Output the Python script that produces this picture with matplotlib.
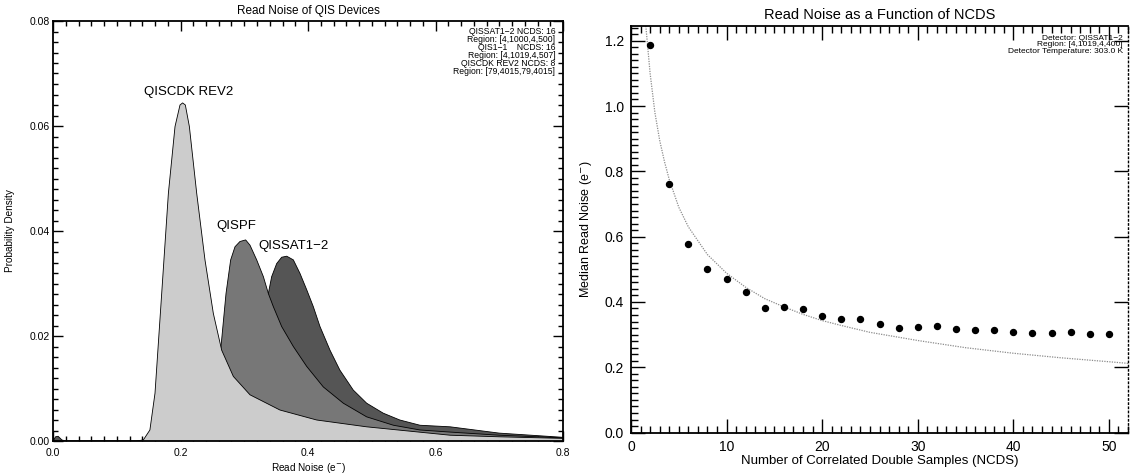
import matplotlib
matplotlib.use("Agg")
import matplotlib.pyplot as plt
from matplotlib.ticker import MultipleLocator, FormatStrFormatter

plt.rcParams["font.family"] = ["Liberation Sans", "DejaVu Sans"]

# ---- Left panel: read-noise probability densities ----
cdk_x = [0.0, 0.13, 0.1417, 0.152, 0.160, 0.1705, 0.181, 0.1914, 0.1992, 0.2033,
         0.2076, 0.2139, 0.2254, 0.2384, 0.2515, 0.2646, 0.2829, 0.309, 0.356,
         0.4136, 0.492, 0.623, 0.70, 0.80]
cdk_y = [0.0, 0.0, 0.0002, 0.0021, 0.0091, 0.0281, 0.0472, 0.0599, 0.0640, 0.0644,
         0.0640, 0.0599, 0.0472, 0.0345, 0.0243, 0.0173, 0.0123, 0.0088, 0.0059,
         0.0040, 0.0027, 0.0011, 0.0008, 0.0005]

pf_x = [0.20, 0.22, 0.23, 0.24, 0.25, 0.263, 0.2714, 0.2787, 0.2855, 0.2933, 0.3022,
        0.309, 0.3195, 0.330, 0.3378, 0.3456, 0.3587, 0.377, 0.398, 0.424, 0.4554,
        0.492, 0.534, 0.5757, 0.623, 0.70, 0.80]
pf_y = [0.0, 0.0, 0.001, 0.003, 0.008, 0.0173, 0.0281, 0.0345, 0.0370, 0.0380, 0.0383,
        0.0373, 0.0345, 0.0313, 0.0281, 0.0256, 0.0218, 0.0180, 0.0142, 0.0103, 0.0072,
        0.0046, 0.0030, 0.0021, 0.0017, 0.0011, 0.0006]

sat_x = [0.0, 0.004, 0.008, 0.014, 0.02, 0.25, 0.263, 0.28, 0.30, 0.32, 0.3378, 0.343,
         0.3509, 0.3587, 0.3666, 0.377, 0.3875, 0.398, 0.4083, 0.4188, 0.4345, 0.450,
         0.471, 0.492, 0.518, 0.544, 0.5757, 0.623, 0.70, 0.80]
sat_y = [0.0, 0.0008, 0.0009, 0.0002, 0.0, 0.0, 0.001, 0.005, 0.012, 0.021, 0.0281, 0.0313,
         0.0338, 0.0350, 0.0352, 0.0345, 0.0319, 0.0288, 0.0256, 0.0218, 0.0173, 0.0135,
         0.0097, 0.0072, 0.0053, 0.0040, 0.0030, 0.0027, 0.0015, 0.0007]

device_labels = ["QISCDK REV2", "QISPF", "QISSAT1\u22122"]
label_pos = [(0.212, 0.0665), (0.287, 0.0410), (0.378, 0.0371)]

left_info = ["QISSAT1\u22122 NCDS: 16", "Region: [4,1000,4,500]",
             "QIS1\u22121    NCDS: 16", "Region: [4,1019,4,507]",
             "QISCDK REV2 NCDS: 8", "Region: [79,4015,79,4015]"]

# ---- Right panel: median read noise vs NCDS ----
ncds = [2, 4, 6, 8, 10, 12, 14, 16, 18, 20, 22, 24, 26, 28, 30, 32, 34, 36, 38,
        40, 42, 44, 46, 48, 50]
median_noise = [1.187, 0.761, 0.578, 0.501, 0.470, 0.431, 0.381, 0.386, 0.377, 0.358,
                0.349, 0.347, 0.334, 0.321, 0.324, 0.325, 0.316, 0.313, 0.313, 0.308,
                0.304, 0.306, 0.307, 0.303, 0.302]

fit_ncds = [1.55, 2, 2.5, 3, 3.5, 4, 5, 6, 8, 10, 12, 14, 16, 18, 20, 22, 25, 30,
            35, 40, 45, 50, 52]
fit_noise = [1.245, 1.10, 0.98, 0.895, 0.83, 0.775, 0.69, 0.63, 0.545, 0.488, 0.445,
             0.41, 0.385, 0.362, 0.343, 0.328, 0.307, 0.282, 0.26, 0.243, 0.229,
             0.217, 0.212]

right_info = ["Detector: QISSAT1\u22122", "Region: [4,1019,4,400]",
              "Detector Temperature: 303.0 K"]

fig = plt.figure(figsize=(11.3, 4.74), dpi=100)

# Left axes
ax1 = fig.add_axes([53 / 1130, 1 - 441 / 474, 510 / 1130, 420 / 474])
series = [(sat_x, sat_y, "#555555", 1), (pf_x, pf_y, "#777777", 2),
          (cdk_x, cdk_y, "#cccccc", 3)]
for xs, ys, col, z in series:
    ax1.fill_between(xs, ys, 0, facecolor=col, edgecolor="none", zorder=z)
    ax1.plot(xs, ys, color="black", lw=0.6, zorder=z)

for txt, (lx, ly) in zip(device_labels, label_pos):
    ax1.text(lx, ly, txt, ha="center", va="center", fontsize=9.5, zorder=5)

for i, line in enumerate(left_info):
    ypix = 32 + i * 7.8
    ax1.text(0.985, 1 - (ypix - 21) / 420, line, transform=ax1.transAxes,
             ha="right", va="center", fontsize=6.2, zorder=5)

ax1.set_xlim(0, 0.8)
ax1.set_ylim(0, 0.08)
ax1.xaxis.set_major_locator(MultipleLocator(0.2))
ax1.xaxis.set_minor_locator(MultipleLocator(0.02))
ax1.yaxis.set_major_locator(MultipleLocator(0.02))
ax1.yaxis.set_minor_locator(MultipleLocator(0.002))
ax1.xaxis.set_major_formatter(FormatStrFormatter("%.1f"))
ax1.yaxis.set_major_formatter(FormatStrFormatter("%.2f"))
ax1.tick_params(which="both", direction="in", top=True, right=True,
                labelsize=7.5, width=1.0)
ax1.tick_params(which="major", length=7)
ax1.tick_params(which="minor", length=3.5)
ax1.tick_params(axis="x", pad=5)
ax1.tick_params(axis="y", pad=2)
for sp in ax1.spines.values():
    sp.set_linewidth(1.3)
    sp.set_zorder(6)
ax1.set_title("Read Noise of QIS Devices", fontsize=8.5, pad=5)
ax1.set_xlabel("Read Noise (e$^{-}$)", fontsize=7.2, labelpad=2)
ax1.set_ylabel("Probability Density", fontsize=7.2)
ax1.yaxis.set_label_coords(-0.075, 0.5)

# Right axes
ax2 = fig.add_axes([631 / 1130, 1 - 432.6 / 474, 497 / 1130, 406.6 / 474])
ax2.plot(fit_ncds, fit_noise, color="#8c8c8c", lw=0.9, linestyle=(0, (1, 1)))
ax2.plot(ncds, median_noise, "o", color="black", markersize=4.3)

for i, line in enumerate(right_info):
    ypix = 38.5 + i * 6.3
    ax2.text(0.99, 1 - (ypix - 26) / 406.6, line, transform=ax2.transAxes,
             ha="right", va="center", fontsize=6.0)

ax2.set_xlim(0, 52)
ax2.set_ylim(0, 1.245)
ax2.xaxis.set_major_locator(MultipleLocator(10))
ax2.xaxis.set_minor_locator(MultipleLocator(1))
ax2.yaxis.set_major_locator(MultipleLocator(0.2))
ax2.yaxis.set_minor_locator(MultipleLocator(0.02))
ax2.yaxis.set_major_formatter(FormatStrFormatter("%.1f"))
ax2.tick_params(which="both", direction="in", top=True, right=True,
                labelsize=10, width=1.0)
ax2.tick_params(which="major", length=10)
ax2.tick_params(which="minor", length=5)
ax2.tick_params(which="minor", right=False)
ax2.tick_params(axis="y", pad=5)
ax2.tick_params(axis="x", pad=5)
for name, sp in ax2.spines.items():
    sp.set_linewidth(1.3)
ax2.spines["right"].set_linestyle((0, (1, 2)))
ax2.spines["right"].set_linewidth(1.0)
ax2.set_title("Read Noise as a Function of NCDS", fontsize=10.5, pad=5)
ax2.set_xlabel("Number of Correlated Double Samples (NCDS)", fontsize=9.5,
               labelpad=1)
ax2.set_ylabel("Median Read Noise (e$^{-}$)", fontsize=9)
ax2.yaxis.set_label_coords(-0.075, 0.5)

fig.savefig("out.png", dpi=100)
